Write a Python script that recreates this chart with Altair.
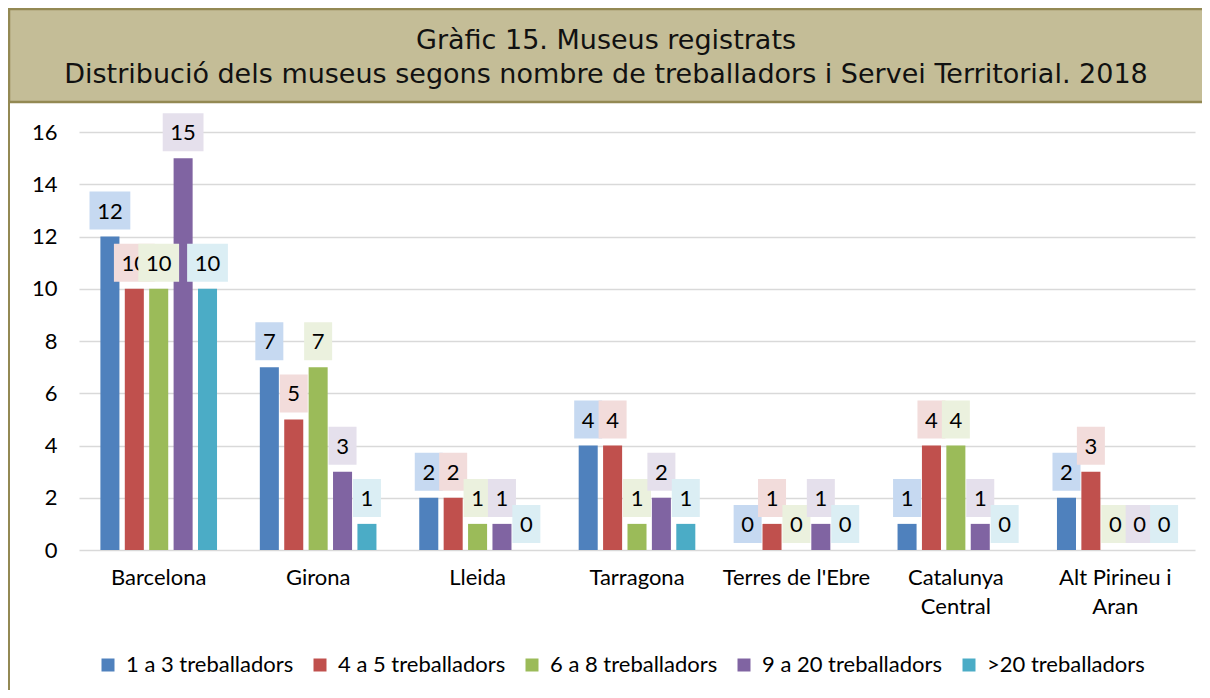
import altair as alt
import pandas as pd

categories = ["Barcelona", "Girona", "Lleida", "Tarragona", "Terres de l'Ebre",
              "Catalunya|Central", "Alt Pirineu i|Aran"]
series = ["1 a 3 treballadors", "4 a 5 treballadors", "6 a 8 treballadors",
          "9 a 20 treballadors", ">20 treballadors"]
v_1a3 = [12, 7, 2, 4, 0, 1, 2]
v_4a5 = [10, 5, 2, 4, 1, 4, 3]
v_6a8 = [10, 7, 1, 1, 0, 4, 0]
v_9a20 = [15, 3, 1, 2, 1, 1, 0]
v_20 = [10, 1, 0, 1, 0, 0, 0]
colors = ["#4F81BD", "#C0504D", "#9BBB59", "#8064A2", "#4BACC6"]
light = ["#C6D9F1", "#F2DCDB", "#EBF1DE", "#E5E0EC", "#DBEEF4"]
title1 = "Gràfic 15. Museus registrats"
title2 = "Distribució dels museus segons nombre de treballadors i Servei Territorial. 2018"

rows = []
for s, vals in zip(series, [v_1a3, v_4a5, v_6a8, v_9a20, v_20]):
    for c, v in zip(categories, vals):
        rows.append({"cat": c, "series": s, "value": v, "digits": str(len(str(v)))})
df = pd.DataFrame(rows)

FONT = "Lato"
W, H = 1116, 418

x = alt.X("cat:N", sort=categories,
          scale=alt.Scale(paddingInner=0, paddingOuter=0),
          axis=alt.Axis(title=None, labelExpr="split(datum.label, '|')", ticks=False,
                        domain=False, labelFontSize=22, labelPadding=17,
                        labelLineHeight=29, labelColor="#000", labelFont=FONT,
                        labelAngle=0, labelLimit=300))
xo = alt.XOffset("series:N", sort=series,
                 scale=alt.Scale(paddingInner=0.22, paddingOuter=0.877))
y = alt.Y("value:Q", scale=alt.Scale(domain=[0, 16], nice=False),
          axis=alt.Axis(title=None, values=list(range(0, 17, 2)), grid=True,
                        gridColor="#D9D9D9", gridWidth=1.5, domain=False, ticks=False,
                        labelFontSize=22, labelPadding=22, labelColor="#000",
                        labelFont=FONT))

base = alt.Chart(df)

bars = base.mark_bar().encode(
    x=x, xOffset=xo, y=y,
    color=alt.Color("series:N", scale=alt.Scale(domain=series, range=colors),
                    legend=alt.Legend(title=None, orient="none", legendX=18, legendY=522,
                                      direction="horizontal", symbolType="square",
                                      symbolSize=169, symbolStrokeWidth=0,
                                      labelFontSize=22, labelFont=FONT,
                                      labelColor="#000", columnPadding=15,
                                      labelOffset=7, labelLimit=400)),
)

p1 = "M-0.7,-0.95H0.7V0.95H-0.7Z"
p2 = "M-1.02,-0.95H1.02V0.95H-1.02Z"

layers = []
for s, lc in zip(series, light):
    sub = base.transform_filter(alt.datum.series == s)
    box = sub.mark_point(filled=True, fill=lc, opacity=1, strokeWidth=0,
                         size=1600, yOffset=-26).encode(
        x=x, xOffset=xo, y=y,
        shape=alt.Shape("digits:N", scale=alt.Scale(domain=["1", "2"], range=[p1, p2]),
                        legend=None))
    txt = sub.mark_text(fontSize=22, font=FONT, color="#000", yOffset=-25,
                        baseline="middle").encode(x=x, xOffset=xo, y=y, text="value:Q")
    layers += [box, txt]

deco = pd.DataFrame({"a": [1]})
outer = alt.Chart(deco).mark_rect(filled=False, stroke="#938953", strokeWidth=2).encode(
    x=alt.value(-70), x2=alt.value(1150), y=alt.value(-123), y2=alt.value(576))
tbox = alt.Chart(deco).mark_rect(fill="#C4BD97", stroke="#938953", strokeWidth=2.5).encode(
    x=alt.value(-70), x2=alt.value(1150), y=alt.value(-123), y2=alt.value(-30))
t1 = alt.Chart(deco).mark_text(font="DejaVu Sans", fontSize=27, color="#111",
                               align="center", baseline="alphabetic").encode(
    x=alt.value(527), y=alt.value(-83), text=alt.value(title1))
t2 = alt.Chart(deco).mark_text(font="DejaVu Sans", fontSize=27, color="#111",
                               align="center", baseline="alphabetic").encode(
    x=alt.value(527), y=alt.value(-49), text=alt.value(title2))

chart = alt.layer(outer, tbox, t1, t2, bars, *layers).properties(
    width=W, height=H,
    autosize=alt.AutoSizeParams(type="none"),
    padding={"left": 71, "top": 124, "right": 7, "bottom": 140},
).configure_view(strokeWidth=0)

chart.save("out.html", embed_options={"renderer": "svg", "actions": False})
